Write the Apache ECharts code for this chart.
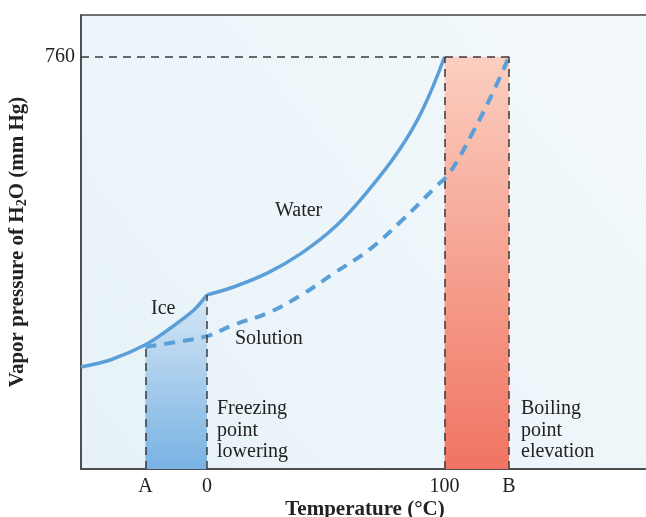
<!DOCTYPE html>
<html>
<head>
<meta charset="utf-8">
<script src="https://cdn.jsdelivr.net/npm/echarts@6/dist/echarts.min.js"></script>
<style>
  html,body{margin:0;padding:0;background:#fff;}
  #main{width:646px;height:517px;}
</style>
</head>
<body>
<div id="main"></div>
<script>
// temperatures (deg C, A and B) and vapour pressures (mm Hg)
const iceT = [-53, -40.7, -25.9, -15.3, -5.5, 0];
const iceP = [188, 201, 229, 260, 293, 321];
const waterT = [0, 11.4, 25.8, 39.8, 53.8, 68.2, 80.9, 90.7, 100];
const waterP = [321, 336, 362, 398, 446, 515, 588, 662, 760];
const solT = [-25.9, -13.1, 0, 11.4, 25.8, 39.8, 53.8, 68.2, 82.2, 96.2, 102.1, 111.8, 120.3, 127.1];
const solP = [225, 234, 245, 266, 288, 321, 362, 404, 459, 520, 546, 620, 694, 760];
const tickT = [-25.9, 0, 100, 127.1];
const tickNames = ['A', '0', '100', 'B'];
const pNormal = 760;

const tA = tickT[0], tZero = tickT[1], tBoil = tickT[2], tB = tickT[3];
const pair = (xs, ys) => xs.map((x, i) => [x, ys[i]]);
const serif = '"Liberation Serif", "DejaVu Serif", serif';

let chart = echarts.init(document.getElementById('main'));

let option = {
  animation: false,
  grid: {
    left: 81, top: 15, right: -3, bottom: 48,
    containLabel: false,
    outerBoundsMode: 'none',
    show: true,
    borderColor: '#444',
    borderWidth: 1.5,
    backgroundColor: new echarts.graphic.LinearGradient(0, 1, 1, 0, [
      {offset: 0, color: '#e6f2f8'},
      {offset: 1, color: '#f4f9fc'}
    ])
  },
  xAxis: {
    type: 'value',
    min: -53,
    max: 186,
    name: 'Temperature (°C)',
    nameLocation: 'middle',
    nameGap: 30,
    nameMoveOverlap: false,
    nameTextStyle: {fontFamily: serif, fontWeight: 'bold', fontSize: 21, color: '#222'},
    axisLine: {show: true, onZero: false, lineStyle: {color: '#444', width: 1.5}},
    axisTick: {show: false},
    splitLine: {show: false},
    axisLabel: {
      customValues: tickT,
      formatter: v => tickNames[tickT.indexOf(v)],
      margin: 8,
      fontFamily: serif,
      fontSize: 20,
      color: '#222'
    }
  },
  yAxis: {
    type: 'value',
    min: 0,
    max: 837,
    name: 'Vapor pressure of H{sub|2}O (mm Hg)',
    nameLocation: 'middle',
    nameGap: 52,
    nameMoveOverlap: false,
    nameTextStyle: {
      fontFamily: serif, fontWeight: 'bold', fontSize: 21, color: '#222',
      rich: {sub: {fontFamily: serif, fontWeight: 'bold', fontSize: 14, color: '#222', verticalAlign: 'bottom', padding: [9, 0, 0, 0]}}
    },
    axisLine: {show: true, onZero: false, lineStyle: {color: '#444', width: 1.5}},
    axisTick: {show: false},
    splitLine: {show: false},
    axisLabel: {
      customValues: [pNormal],
      margin: 6,
      fontFamily: serif,
      fontSize: 20,
      color: '#222'
    }
  },
  graphic: [
    {type: 'text', left: 151, top: 299, style: {text: 'Ice', font: '20px ' + serif, fill: '#222'}},
    {type: 'text', left: 275, top: 201, style: {text: 'Water', font: '20px ' + serif, fill: '#222'}},
    {type: 'text', left: 235, top: 329, style: {text: 'Solution', font: '20px ' + serif, fill: '#222'}},
    {type: 'text', left: 217, top: 398, style: {text: 'Freezing\npoint\nlowering', font: '20px ' + serif, fill: '#222', lineHeight: 21.5}},
    {type: 'text', left: 521, top: 398, style: {text: 'Boiling\npoint\nelevation', font: '20px ' + serif, fill: '#222', lineHeight: 21.5}}
  ],
  series: [
    {
      // freezing point lowering band under the ice curve
      type: 'line',
      data: pair(iceT, iceP).filter(d => d[0] >= tA),
      symbol: 'none',
      lineStyle: {width: 0},
      areaStyle: {
        opacity: 1,
        color: new echarts.graphic.LinearGradient(0, 0, 0, 1, [
          {offset: 0, color: '#d6e7f5'},
          {offset: 1, color: '#78b2e3'}
        ])
      },
      z: 1
    },
    {
      // boiling point elevation band
      type: 'line',
      data: [[tBoil, pNormal], [tB, pNormal]],
      symbol: 'none',
      lineStyle: {width: 0},
      areaStyle: {
        opacity: 1,
        color: new echarts.graphic.LinearGradient(0, 0, 0, 1, [
          {offset: 0, color: '#fbcfc0'},
          {offset: 1, color: '#f07462'}
        ])
      },
      z: 1,
      markLine: {
        silent: true,
        symbol: 'none',
        label: {show: false},
        lineStyle: {color: '#3a3a3a', width: 1.5, type: [8, 6]},
        data: [
          [{coord: [-53, pNormal]}, {coord: [tB, pNormal]}],
          [{coord: [tA, 0]}, {coord: [tA, solP[0]]}],
          [{coord: [tZero, 0]}, {coord: [tZero, iceP[iceP.length - 1]]}],
          [{coord: [tBoil, 0]}, {coord: [tBoil, pNormal]}],
          [{coord: [tB, 0]}, {coord: [tB, pNormal]}]
        ]
      }
    },
    {
      name: 'Ice',
      type: 'line',
      data: pair(iceT, iceP),
      smooth: 0.3,
      symbol: 'none',
      lineStyle: {color: '#5b9fd9', width: 3.5},
      z: 3
    },
    {
      name: 'Water',
      type: 'line',
      data: pair(waterT, waterP),
      smooth: 0.4,
      symbol: 'none',
      lineStyle: {color: '#5b9fd9', width: 3.5},
      z: 3
    },
    {
      name: 'Solution',
      type: 'line',
      data: pair(solT, solP),
      smooth: 0.4,
      symbol: 'none',
      lineStyle: {color: '#5b9fd9', width: 4, type: [11, 8]},
      z: 3
    }
  ]
};
chart.setOption(option);
</script>
</body>
</html>
